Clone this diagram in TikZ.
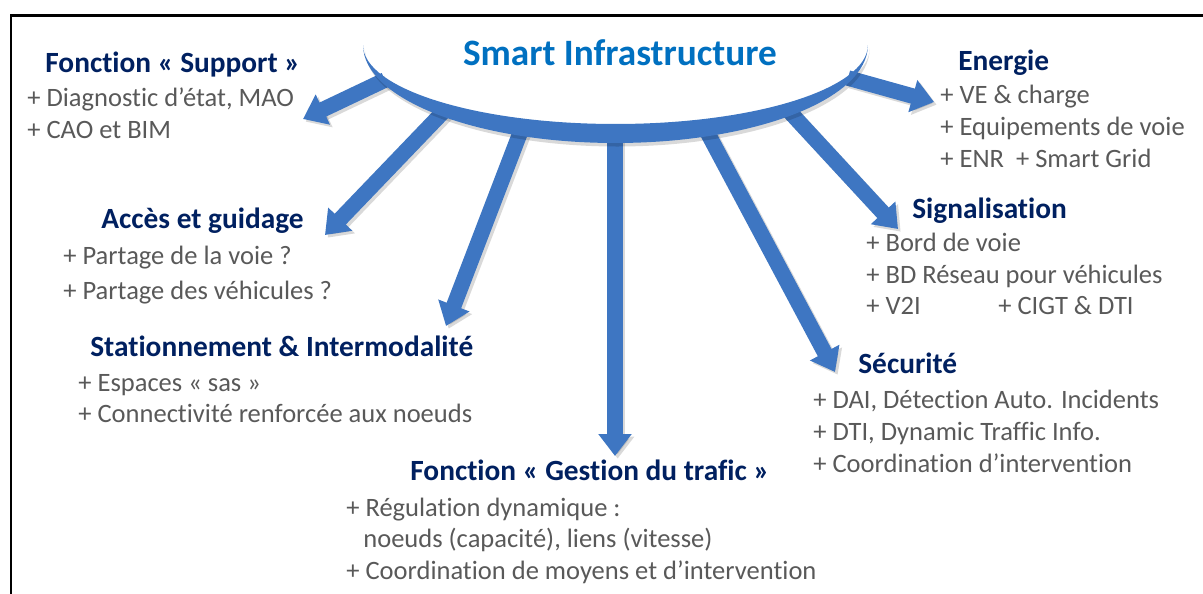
\documentclass[tikz,border=0pt]{standalone}
\usepackage{fontspec}
\setmainfont{Carlito}[RawFeature={-liga;-clig}]
\usepackage{tikz}
\usetikzlibrary{arrows.meta}

\definecolor{titrebleu}{RGB}{0,112,192}
\definecolor{marine}{RGB}{0,32,96}
\definecolor{gristexte}{RGB}{89,89,89}
\definecolor{bleufleche}{RGB}{62,118,194}

\tikzset{
  titre/.style={text=titrebleu,font=\fontsize{21.2}{25}\selectfont\bfseries,inner sep=0pt,anchor=base},
  entete/.style={text=marine,font=\fontsize{16.7}{19}\selectfont\bfseries,inner sep=0pt,anchor=base west},
  ligne/.style={text=gristexte,font=\fontsize{15.1}{18}\selectfont,inner sep=0pt,anchor=base west},
  fleche/.style={draw=bleufleche,line width=0.31cm,-{Triangle[width=0.64cm,length=0.44cm]}},
  ombre/.style={draw=black,opacity=0.15,line width=0.31cm,-{Triangle[width=0.64cm,length=0.44cm]}}
}

\begin{document}
\begin{tikzpicture}[x=0.02cm,y=-0.02cm]
\useasboundingbox (0,0) rectangle (1203,593);

% cadre
\draw[line width=0.06cm,line cap=rect] (11,593)--(11,15)--(1203,15);

% departs des fleches (sous l'arc)
\coordinate (sup0) at (385,80);
\coordinate (acc0) at (445,110);
\coordinate (sta0) at (522,128);
\coordinate (ges0) at (615,133);
\coordinate (sec0) at (705,128);
\coordinate (sig0) at (788,110);
\coordinate (ene0) at (848,78);

% pointes
\coordinate (sup1) at (303,119);
\coordinate (acc1) at (325,235);
\coordinate (sta1) at (446,326);
\coordinate (ges1) at (615,456);
\coordinate (sec1) at (835,372);
\coordinate (sig1) at (898,229);
\coordinate (ene1) at (934,102);

\foreach \a in {sup,acc,sta,ges,sec,sig,ene}
\draw[ombre,transform canvas={xshift=1.5pt,yshift=-1.5pt}] (\a0)--(\a1);
\foreach \a in {sup,acc,sta,ges,sec,sig,ene}
\draw[fleche] (\a0)--(\a1);

% arc
\coordinate (arcg) at (363,45);
\coordinate (arcd) at (868,45);
\fill[black,opacity=0.15,transform canvas={xshift=1pt,yshift=-2pt}] (arcg) arc[start angle=180,end angle=360,x radius=5.05cm,y radius=1.58cm]
  arc[start angle=360,end angle=180,x radius=5.05cm,y radius=1.96cm];
\fill[bleufleche] (arcg) arc[start angle=180,end angle=360,x radius=5.05cm,y radius=1.58cm]
  arc[start angle=360,end angle=180,x radius=5.05cm,y radius=1.96cm];

\node[titre] (smart) at (620,65) {Smart Infrastructure};

\node[entete] (sup) at (45,72) {Fonction « Support »};
\node[ligne] (supa) at (27,106) {+ Diagnostic d’état, MAO};
\node[ligne] (supb) at (27,138) {+ CAO et BIM};

\node[entete] (acc) at (101,228) {Accès et guidage};
\node[ligne] (acca) at (63,264) {+ Partage de la voie ?};
\node[ligne] (accb) at (63,299) {+ Partage des véhicules ?};

\node[entete] (sta) at (90,356) {Stationnement \& Intermodalité};
\node[ligne] (staa) at (78,391) {+ Espaces « sas »};
\node[ligne] (stab) at (78,422) {+ Connectivité renforcée aux noeuds};

\node[entete] (ges) at (410,480) {Fonction « Gestion du trafic »};
\node[ligne] (gesa) at (346,516) {+ Régulation dynamique :};
\node[ligne] (gesb) at (363,547) {noeuds (capacité), liens (vitesse)};
\node[ligne] (gesc) at (346,579) {+ Coordination de moyens et d’intervention};

\node[entete] (ene) at (958,70) {Energie};
\node[ligne] (enea) at (940,103) {+ VE \& charge};
\node[ligne] (eneb) at (940,135) {+ Equipements de voie};
\node[ligne] (enec) at (940,167) {+ ENR~ + Smart Grid};

\node[entete] (sig) at (912,218) {Signalisation};
\node[ligne] (siga) at (866,251) {+ Bord de voie};
\node[ligne] (sigb) at (866,283) {+ BD Réseau pour véhicules};
\node[ligne] (sigc) at (866,314) {+ V2I};
\node[ligne] (sigd) at (998,314) {+ CIGT \& DTI};

\node[entete] (sec) at (858,373) {Sécurité};
\node[ligne] (seca) at (813,408) {+ DAI, Détection Auto. Incidents};
\node[ligne] (secb) at (813,440) {+ DTI, Dynamic Traffic Info.};
\node[ligne] (secc) at (813,472) {+ Coordination d’intervention};
\end{tikzpicture}
\end{document}
